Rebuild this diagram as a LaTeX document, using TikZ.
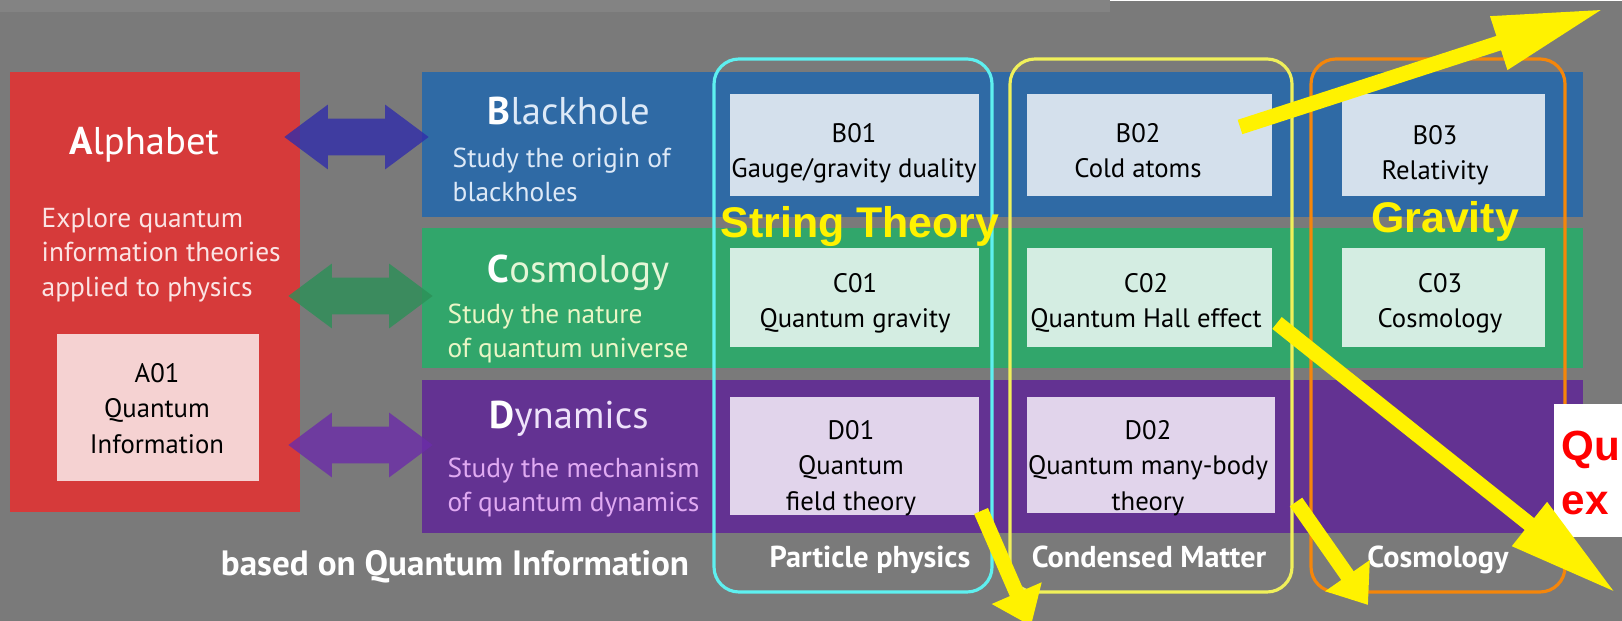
\documentclass[tikz,border=0pt]{standalone}
\usepackage{fontspec}
\setmainfont{PT Sans}
\newfontfamily\hlfont{Liberation Sans}
\usetikzlibrary{arrows.meta,fit,calc}

\definecolor{bgGray}{HTML}{7A7A7A}
\definecolor{bandGray}{HTML}{838383}
\definecolor{alphaRed}{HTML}{D63A3A}
\definecolor{alphaLt}{HTML}{F5D2D2}
\definecolor{alphaTxt}{HTML}{FBE4E4}
\definecolor{blkBlue}{HTML}{2F6AA5}
\definecolor{blkLt}{HTML}{D4E0EC}
\definecolor{blkTxt}{HTML}{DDE9F7}
\definecolor{cosGreen}{HTML}{31A66B}
\definecolor{cosLt}{HTML}{D4EDE2}
\definecolor{cosTxt}{HTML}{E4F6D6}
\definecolor{cosSub}{HTML}{EAF6C6}
\definecolor{dynPurple}{HTML}{633292}
\definecolor{dynLt}{HTML}{E1D4EB}
\definecolor{dynTxt}{HTML}{EEE2FA}
\definecolor{dynSub}{HTML}{E0AAF2}
\definecolor{blkArrow}{HTML}{312DAA}
\definecolor{cosArrow}{HTML}{2C9058}
\definecolor{dynArrow}{HTML}{6B2CA9}
\definecolor{stCyan}{HTML}{5EF0F0}
\definecolor{cmYellow}{HTML}{F0F05A}
\definecolor{grOrange}{HTML}{F5860A}

\begin{document}
\begin{tikzpicture}[x=0.1mm, y=-0.1mm,
  area/.style={inner sep=0pt, outer sep=0pt, fit={#1}},
  boxtext/.style={anchor=north, align=center, inner sep=0pt,
    text=black, font=\fontsize{7.6}{10}\selectfont},
  rowtitle/.style={anchor=base west, inner sep=0pt,
    font=\fontsize{11}{13}\selectfont},
  rowsub/.style={anchor=north west, align=left, inner sep=0pt,
    font=\fontsize{7.8}{9.7}\selectfont},
  fieldbox/.style={draw=#1, line width=0.9pt, rounded corners=2.5mm,
    inner sep=0pt, outer sep=0pt},
  fieldname/.style={anchor=base, inner sep=0pt, text=white,
    font=\bfseries\fontsize{8.6}{10}\selectfont},
  link/.style={draw=#1, line width=10.5pt,
    {Triangle[length=12.5pt,width=17.6pt]}-{Triangle[length=12.5pt,width=17.6pt]}},
  hilite/.style={anchor=base, inner sep=0pt, text=yellow,
    font=\hlfont\bfseries\fontsize{12.2}{14}\selectfont},
  flow/.style={draw=yellow, line width=4.3pt,
    -{Triangle[length=#1,width=14.8pt]}}]
 \useasboundingbox (0,0) rectangle (1622,621);
 \fill[bgGray] (0,0) rectangle (1622,621);
 \fill[bandGray] (0,0) rectangle (1110,12);
 \fill[white] (1110,0) rectangle (1622,1.5);

 % Alphabet
 \node[area={(10,72) (300,512)}, fill=alphaRed] (alpha) {};
 \node[area={(57,334) (259,481)}, fill=alphaLt] (a01) {};
 \node[anchor=base, inner sep=0pt, text=white,
   font=\fontsize{11}{13}\selectfont] (alphat) at (144,155) {\textbf{A}lphabet};
 \node[rowsub, text=alphaTxt] (alphas) at (41,208)
   {Explore quantum\\information theories\\applied to physics};
 \node[boxtext] (a01t) at (157,363) {A01\\Quantum\\Information};

 % rows
 \node[area={(422,72) (1583,217)}, fill=blkBlue] (blk) {};
 \node[area={(422,228) (1583,368)}, fill=cosGreen] (cos) {};
 \node[area={(422,380) (1583,533)}, fill=dynPurple] (dyn) {};

 \node[rowtitle, text=blkTxt] (blkt) at (487,125) {\textcolor{white}{\textbf{B}}lackhole};
 \node[rowsub, text=blkTxt] (blks) at (452,147) {Study the origin of\\blackholes};
 \node[rowtitle, text=cosTxt] (cost) at (487,283) {\textcolor{white}{\textbf{C}}osmology};
 \node[rowsub, text=cosSub] (coss) at (447,303) {Study the nature\\of quantum universe};
 \node[rowtitle, text=dynTxt] (dynt) at (489,428) {\textcolor{white}{\textbf{D}}ynamics};
 \node[rowsub, text=dynSub] (dyns) at (447,457) {Study the mechanism\\of quantum dynamics};

 % project boxes
 \node[area={(730,94) (979,196)}, fill=blkLt] (b01) {};
 \node[area={(1027,94) (1272,196)}, fill=blkLt] (b02) {};
 \node[area={(1342,94) (1545,196)}, fill=blkLt] (b03) {};
 \node[area={(730,248) (979,347)}, fill=cosLt] (c01) {};
 \node[area={(1027,248) (1272,347)}, fill=cosLt] (c02) {};
 \node[area={(1342,248) (1545,347)}, fill=cosLt] (c03) {};
 \node[area={(730,397) (979,515)}, fill=dynLt] (d01) {};
 \node[area={(1027,397) (1275,513)}, fill=dynLt] (d02) {};

 \node[boxtext] (b01t) at (854,123) {B01\\Gauge/gravity duality};
 \node[boxtext] (b02t) at (1138,123) {B02\\Cold atoms};
 \node[boxtext] (b03t) at (1435,125) {B03\\Relativity};
 \node[boxtext] (c01t) at (855,273) {C01\\Quantum gravity};
 \node[boxtext] (c02t) at (1146,273) {C02\\Quantum Hall effect};
 \node[boxtext] (c03t) at (1440,273) {C03\\Cosmology};
 \node[boxtext] (d01t) at (851,420) {D01\\Quantum\hspace{1.2em}\\field theory};
 \node[boxtext] (d02t) at (1148,420) {D02\\Quantum many-body\\theory};

 % research fields
 \node[fieldbox=stCyan, fit={(714,59) (992,592)}] (fpp) {};
 \node[fieldbox=cmYellow, fit={(1010,59) (1292,592)}] (fcm) {};
 \node[fieldbox=grOrange, fit={(1311,59) (1565,592)}] (fgr) {};
 \node[fieldname] (fppt) at (870,567) {Particle physics};
 \node[fieldname] (fcmt) at (1149,567) {Condensed Matter};
 \node[fieldname] (fgrt) at (1438,567) {Cosmology};
 \node[anchor=base, inner sep=0pt, text=white,
   font=\bfseries\fontsize{10}{12}\selectfont] (basis) at (455,575)
   {based on Quantum Information};

 % links to Alphabet
 \begin{scope}[transparency group, opacity=0.8]
  \draw[link=blkArrow] ($(alpha.east|-blk.west)+(-16,-7.5)$) -- ($(blk.west)+(7,-7.5)$);
 \end{scope}
 \begin{scope}[transparency group, opacity=0.8]
  \draw[link=cosArrow] ($(alpha.east|-cos.west)+(-12,-2)$) -- ($(cos.west)+(11,-2)$);
 \end{scope}
 \begin{scope}[transparency group, opacity=0.8]
  \draw[link=dynArrow] ($(alpha.east|-dyn.west)+(-12,-11.5)$) -- ($(dyn.west)+(11,-11.5)$);
 \end{scope}

 \node[hilite] (strth) at (860,238) {String Theory};
 \node[hilite] (grav) at (1445,233) {Gravity};

 \node[area={(1554,404) (1622,537)}, fill=white] (qbox) {};
 \node[anchor=north west, align=left, inner sep=0pt, text=red,
   font=\hlfont\bfseries\fontsize{12}{15.6}\selectfont] (qtxt) at (1561,430) {Qu\\ex};

 % outgoing arrows
 \coordinate (u1) at (1604,9);
 \coordinate (u2) at (1616,593);
 \coordinate (u3) at (1031,626);
 \coordinate (u4) at (1368,605);
 \draw[flow=31.5pt] ($(b02.east)+(-32,-18)$) -- (u1);
 \draw[flow=31.5pt] ($(c02.south east)+(5,-24)$) -- (u2);
 \draw[flow=10.2pt] ($(d01.south east)+(2,-4)$) -- (u3);
 \draw[flow=10.2pt] ($(d02.south east)+(21,-11)$) -- (u4);
\end{tikzpicture}
\end{document}
